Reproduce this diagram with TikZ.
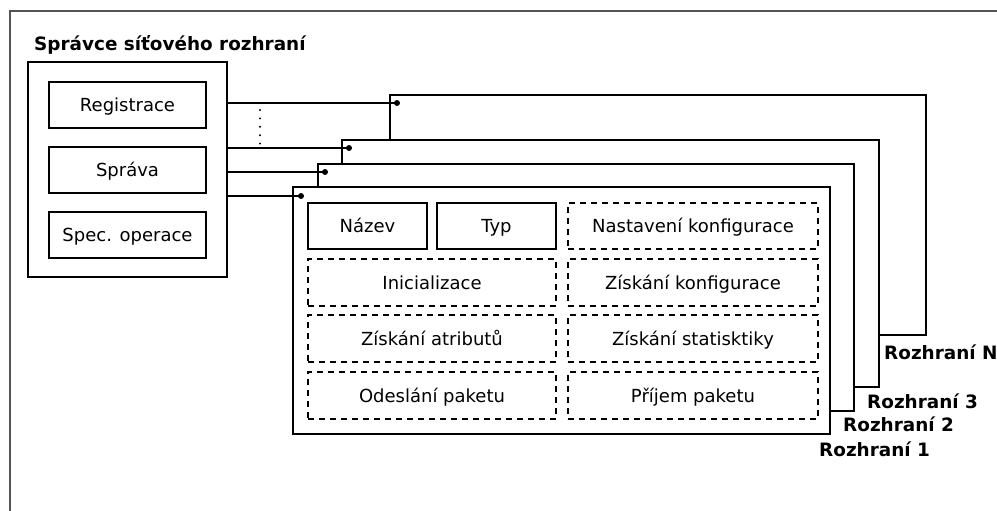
\documentclass[tikz,border=0pt]{standalone}
\usepackage{fontspec}
\setmainfont{DejaVu Sans}
\usetikzlibrary{calc}
\definecolor{framegray}{gray}{0.33}
\begin{document}
\begin{tikzpicture}[x=1pt,y=-1pt,
  box/.style={draw, line width=1.5pt, inner sep=0pt, align=center,
    text height=13pt, text depth=0pt,
    font=\fontsize{18}{21}\selectfont},
  solidbox/.style={box, fill=white},
  opbox/.style={box, line width=1.2pt, dash pattern=on 6pt off 5pt},
  card/.style={draw, fill=white, line width=1.6pt, inner sep=0pt},
  joint/.style={circle, fill=black, inner sep=0pt, minimum size=6pt},
  caption/.style={font=\bfseries\fontsize{18.4}{21}\selectfont, inner sep=0pt, anchor=base west},
  wire/.style={line width=1.6pt}]
\useasboundingbox (0,0) rectangle (997,511);

% open outer frame
\draw[framegray, line width=1.6pt] (10,511) -- (10,11) -- (997,11);

% network interface manager
\node[caption] (title) at (34,51) {Správce síťového rozhraní};
\node[card, minimum width=199pt, minimum height=215pt] (mgr) at (127.5,169.5) {};
\node[solidbox, minimum width=157pt, minimum height=46pt] (reg) at (127.5,105) {Registrace};
\node[solidbox, minimum width=157pt, minimum height=46pt] (spr) at (127.5,170) {Správa};
\node[solidbox, minimum width=157pt, minimum height=46pt] (spec) at (127.5,235) {Spec. operace};

% stacked interface cards, back to front
\node[card, minimum width=536pt, minimum height=240pt] (ifN) at (658,215) {};
\node[card, minimum width=537pt, minimum height=247pt] (if3) at (610.5,263.5) {};
\node[card, minimum width=536pt, minimum height=247pt] (if2) at (586,287.5) {};
\node[card, minimum width=537pt, minimum height=247pt] (if1) at (561.5,310.5) {};

% contents of the front card
\node[solidbox, minimum width=119pt, minimum height=46pt] (nazev) at (367.5,226) {Název};
\node[solidbox, minimum width=119pt, minimum height=46pt] (typ) at (496.5,226) {Typ};
\node[opbox, minimum width=248pt, minimum height=47pt] (init) at (432,282.5) {Inicializace};
\node[opbox, minimum width=248pt, minimum height=47pt] (attr) at (432,338.5) {Získání atributů};
\node[opbox, minimum width=248pt, minimum height=47pt] (send) at (432,395.5) {Odeslání paketu};
\node[opbox, minimum width=250pt, minimum height=46pt] (setcfg) at (693,226) {Nastavení konfigurace};
\node[opbox, minimum width=250pt, minimum height=47pt] (getcfg) at (693,282.5) {Získání konfigurace};
\node[opbox, minimum width=250pt, minimum height=47pt] (stats) at (693,338.5) {Získání statisktiky};
\node[opbox, minimum width=250pt, minimum height=47pt] (recv) at (693,395.5) {Příjem paketu};

% card labels
\node[caption] (lblN) at (884,359) {Rozhraní N};
\node[caption] (lbl3) at (867,408) {Rozhraní 3};
\node[caption] (lbl2) at (843,431) {Rozhraní 2};
\node[caption] (lbl1) at (819,456) {Rozhraní 1};

% attachment points on each card
\node[joint] (jN) at (397,103) {};
\node[joint] (j3) at (349,148) {};
\node[joint] (j2) at (325,172) {};
\node[joint] (j1) at (301,196) {};

% links from the manager to the cards
\draw[wire] (mgr.east |- jN) -- (jN.center);
\draw[wire] (mgr.east |- j3) -- (j3.center);
\draw[wire] (mgr.east |- j2) -- (j2.center);
\draw[wire] (mgr.east |- j1) -- (j1.center);

% ellipsis between the links
\coordinate (gapTop) at (260,110);
\foreach \k in {0,...,4}
  \fill ($(gapTop)+(0,8.4*\k)$) circle (1.1pt);
\end{tikzpicture}
\end{document}
